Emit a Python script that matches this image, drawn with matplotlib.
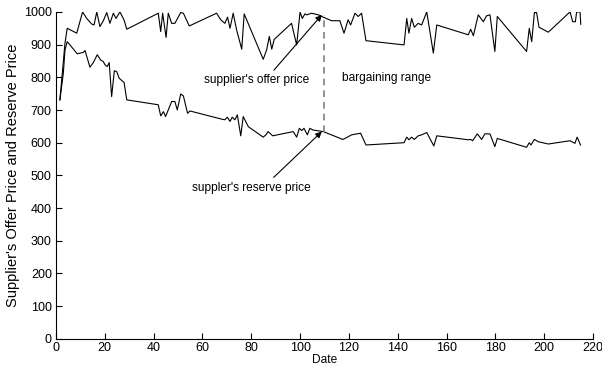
import matplotlib.pyplot as plt

plt.rcParams['font.family'] = ['Liberation Sans', 'DejaVu Sans']

# supplier's offer price (date, price)
offer_date = [1.6, 3.7, 4.6, 8.5, 10.9, 12.6, 14.6, 15.6, 16.7, 18, 19.4, 20.8, 22.1, 23.5,
              24.6, 26.2, 27.9, 29, 41.9, 42.9, 43.7, 45.1, 46, 47.4, 48.7, 51.1, 52.2, 54.6,
              65.8, 67.5, 69.2, 70.3, 71.3, 72.6, 74, 76.1, 77.1, 84.9, 86.3, 87.4, 88.4,
              89.4, 96.5, 98.6, 100, 100.9, 102, 102.7, 104.7, 107.5, 109.5, 112.9, 116.3,
              118, 119.7, 120.7, 122.5, 123.8, 125.2, 127, 142.6, 143.7, 144.6, 145.7, 146.8,
              148.4, 149.8, 151.9, 154.6, 156, 168.9, 169.9, 171, 173, 175.1, 176.4, 177.8,
              179.8, 180.8, 192.8, 193.9, 194.9, 196, 196.9, 197.9, 201.7, 210.6, 211.7,
              212.8, 213.3, 214.7, 215]
offer_price = [731, 905, 950, 935, 1000, 980, 963, 960, 1000, 955, 973, 998, 965, 996,
               980, 1000, 975, 947, 996, 940, 996, 922, 996, 965, 965, 998, 996, 957,
               996, 976, 965, 984, 950, 996, 945, 886, 994, 855, 884, 925, 886,
               916, 965, 899, 1000, 980, 994, 991, 996, 991, 984, 973, 973,
               935, 976, 960, 996, 986, 996, 912, 899, 980, 935, 980, 953,
               965, 960, 1000, 874, 960, 930, 947, 927, 991, 970, 988, 991,
               879, 986, 879, 950, 909, 998, 998, 953, 938, 1000, 970,
               970, 1000, 1000, 962]

# supplier's reserve price (date, price)
reserve_date = [1.6, 3, 3.7, 4.6, 8.7, 11.2, 11.9, 13.9, 15.3, 16.9, 18.3, 19.4, 20.1, 21,
                21.8, 22.8, 23.9, 24.9, 25.9, 27.9, 29, 41.9, 42.9, 44, 44.9, 47.4, 48.7,
                49.7, 51.1, 52.2, 53.9, 54.9, 67.9, 69.2, 70.2, 71.3, 72.2, 73.3, 74.3,
                75.7, 76.7, 78.8, 84.9, 86, 86.9, 88.8, 97.2, 98.6, 99.7, 100.7, 101.6, 103,
                104, 105.2, 109.5, 117.5, 118.4, 121.1, 124.8, 127, 142.6, 143.7, 144.6,
                145.7, 146.8, 148.4, 149.8, 151.9, 154.8, 156, 168.9, 169.9, 170.7, 172.6,
                174.4, 175.7, 177.8, 179.8, 180.8, 192.8, 193.9, 194.6, 196, 197.6, 201.7,
                210.6, 212.6, 213.5, 214.9]
reserve_price = [731, 812, 884, 909, 872, 876, 882, 831, 845, 869, 853, 848, 838, 833,
                 845, 741, 820, 817, 797, 784, 731, 716, 682, 695, 680, 726, 726,
                 700, 749, 743, 690, 697, 672, 670, 678, 665, 678, 670, 685,
                 621, 680, 649, 617, 624, 634, 621, 634, 617, 644, 637, 644, 624,
                 644, 639, 634, 610, 613, 624, 629, 593, 600, 617, 609,
                 617, 610, 621, 624, 631, 590, 621, 609, 610, 606, 627,
                 610, 627, 627, 588, 613, 586, 600, 593, 610, 603, 596,
                 606, 598, 617, 593]

x_ticks = list(range(0, 221, 20))
y_ticks = list(range(0, 1001, 100))

fig = plt.figure(figsize=(6.02, 3.72), dpi=100)
ax = fig.add_axes([0.093, 0.089, 0.892, 0.879])

ax.plot(offer_date, offer_price, color='black', linewidth=0.8)
ax.plot(reserve_date, reserve_price, color='black', linewidth=0.8)

# bargaining range marker
ax.plot([109.8, 109.8], [634, 991], color='gray', linestyle=(0, (4, 3)), linewidth=1.2)

# labels and arrows
arrow = dict(arrowstyle='-|>', color='black', linewidth=0.8, mutation_scale=9,
             shrinkA=0, shrinkB=0)
ax.annotate('', xy=(108.9, 991), xytext=(89.3, 822), arrowprops=arrow)
ax.annotate('', xy=(108.9, 634), xytext=(89.2, 494), arrowprops=arrow)
ax.text(82.1, 792, "supplier's offer price", fontsize=8.6, ha='center', va='center')
ax.text(80.1, 462, "suppler's reserve price", fontsize=8.6, ha='center', va='center')
ax.text(135.6, 797, 'bargaining range', fontsize=8.6, ha='center', va='center')

ax.set_xlim(0, 220)
ax.set_ylim(0, 1000)
ax.set_xticks(x_ticks)
ax.set_yticks(y_ticks)
ax.tick_params(direction='in', length=4, labelsize=9)
ax.tick_params(axis='x', pad=2)
ax.tick_params(axis='y', pad=3)
ax.spines['top'].set_visible(False)
ax.spines['right'].set_visible(False)
ax.set_xlabel('Date', fontsize=8.6, labelpad=0)
ax.set_ylabel("Supplier's Offer Price and Reserve Price", fontsize=10.5, labelpad=3)

plt.savefig('out.png', dpi=100)
